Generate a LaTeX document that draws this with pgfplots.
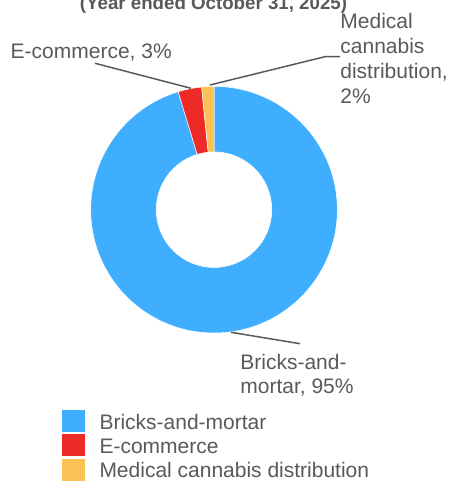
\documentclass[border=0pt]{standalone}
\usepackage{pgfplots}
\pgfplotsset{compat=1.18}
\usepackage{pgfplotstable}
\usepackage{fontspec}
\setmainfont{Liberation Sans}
\definecolor{cBlue}{HTML}{40AEFF}
\definecolor{cRed}{HTML}{EE2A26}
\definecolor{cYel}{HTML}{FBC155}
\definecolor{txt}{HTML}{595959}
\newcommand\lab{\fontsize{21bp}{24bp}\selectfont}

\pgfplotstableread[col sep=comma]{
segment,share
Bricks-and-mortar,95.3
E-commerce,3.1
Medical cannabis distribution,1.6
}\shares

\newcommand\cx{214}
\newcommand\cy{273.3}
\newcommand\slice[3]{%
  \fill[#3, draw=white, line width=0.5bp] (axis cs:\cx,\cy) ++(#1:123.3bp)
    arc[start angle=#1, end angle=#2, radius=123.3bp]
    -- ([shift={(#2:57.8bp)}]axis cs:\cx,\cy)
    arc[start angle=#2, end angle=#1, radius=57.8bp] -- cycle;}

\pgfplotsset{sq legend/.style={legend image code/.code={\fill (0bp,-9.7bp) rectangle (23bp,12.3bp);}}}

\begin{document}
\begin{tikzpicture}
\useasboundingbox (0,0) rectangle (451bp,483bp);
\pgfplotstablegetelem{0}{share}\of\shares \let\vA\pgfplotsretval
\pgfplotstablegetelem{1}{share}\of\shares \let\vB\pgfplotsretval
\pgfplotstablegetelem{2}{share}\of\shares \let\vC\pgfplotsretval
\pgfmathsetmacro\aA{90}
\pgfmathsetmacro\aB{90-3.6*\vA}
\pgfmathsetmacro\aC{\aB-3.6*\vB}
\pgfmathsetmacro\aD{\aC-3.6*\vC}
\begin{axis}[
  at={(0,0)}, anchor=south west,
  width=451bp, height=483bp, scale only axis,
  xmin=0, xmax=451, ymin=0, ymax=483,
  hide axis, clip=false,
  legend style={draw=none, fill=none, at={(axis cs:62,73)}, anchor=north west,
    inner sep=0pt, outer sep=0pt, row sep=0pt, column sep=14.5bp,
    nodes={inner sep=0pt, text=txt, font=\lab, text height=19bp, text depth=5bp}},
  legend cell align=left,
]
\addlegendimage{sq legend, fill=cBlue, draw=none}
\addlegendentry{Bricks-and-mortar}
\addlegendimage{sq legend, fill=cRed, draw=none}
\addlegendentry{E-commerce}
\addlegendimage{sq legend, fill=cYel, draw=none}
\addlegendentry{Medical cannabis distribution}

\slice{\aA}{\aB}{cBlue}
\slice{\aB}{\aC}{cRed}
\slice{\aC}{\aD}{cYel}

% leader lines
\draw[txt, line width=1.5bp] (axis cs:95,419.7) -- (axis cs:191,394.7);
\draw[txt, line width=1.5bp] (axis cs:210,398) -- (axis cs:325,426.3) -- (axis cs:340,426.3);
\draw[txt, line width=1.5bp] (axis cs:231,150.7) -- (axis cs:300,139.3);

% labels
\node[anchor=base west, inner sep=0pt, text=txt, font=\lab] at (axis cs:10.5,424.5) {E-commerce, 3\%};
\node[anchor=base west, inner sep=0pt, text=txt, font=\lab] at (axis cs:340.2,454.7) {Medical};
\node[anchor=base west, inner sep=0pt, text=txt, font=\lab] at (axis cs:340.2,429.7) {cannabis};
\node[anchor=base west, inner sep=0pt, text=txt, font=\lab] at (axis cs:340.2,404.7) {distribution,};
\node[anchor=base west, inner sep=0pt, text=txt, font=\lab] at (axis cs:340.2,379.7) {2\%};
\node[anchor=base west, inner sep=0pt, text=txt, font=\lab] at (axis cs:240.2,113.7) {Bricks-and-};
\node[anchor=base west, inner sep=0pt, text=txt, font=\lab] at (axis cs:240.2,89.7) {mortar, 95\%};

% title (cut off at top)
\node[anchor=base, inner sep=0pt, text=txt, font=\fontsize{18.7bp}{22bp}\selectfont\bfseries] at (axis cs:213.5,473) {(Year ended October 31, 2025)};
\end{axis}
\end{tikzpicture}
\end{document}
